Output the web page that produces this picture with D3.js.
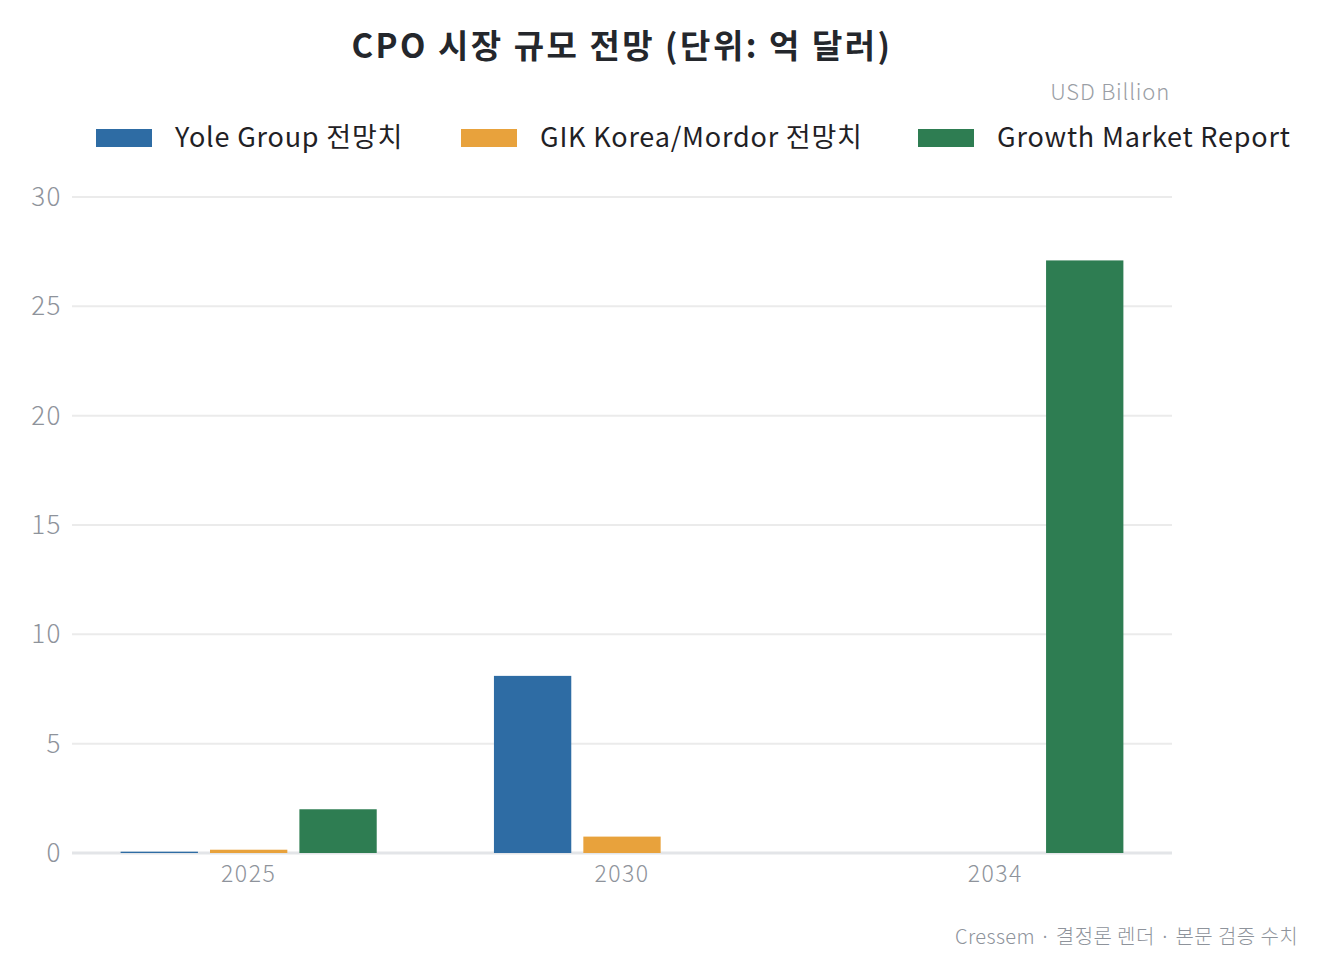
<!DOCTYPE html>
<html>
<head>
<meta charset="utf-8">
<script src="https://cdn.jsdelivr.net/npm/d3@7"></script>
<style>
  body { margin: 0; background: #fff; }
  text { font-family: "Noto Sans CJK KR", "Noto Sans", sans-serif; }
</style>
</head>
<body>
<svg id="chart" width="1328" height="975"></svg>
<script>
// data
var years = ["2025", "2030", "2034"];
var seriesNames = ["Yole Group 전망치", "GIK Korea/Mordor 전망치", "Growth Market Report"];
var seriesColors = ["#2e6ca4", "#e8a23c", "#2e7d52"];
var yoleValues = [0.06, 8.1, 0];
var gikValues = [0.15, 0.75, 0];
var gmrValues = [2.0, 0, 27.1];
var yTicks = [0, 5, 10, 15, 20, 25, 30];

var seriesValues = [yoleValues, gikValues, gmrValues];

var svg = d3.select("#chart");

var x0 = d3.scaleBand()
    .domain(years)
    .range([62, 1182])
    .paddingInner(0.314)
    .paddingOuter(0.157);

var x1 = d3.scaleBand()
    .domain(d3.range(seriesNames.length))
    .range([0, x0.bandwidth()])
    .paddingInner(0.135);

var y = d3.scaleLinear()
    .domain([0, 30])
    .range([853, 197]);

// grid lines
svg.append("g")
    .selectAll("line")
    .data(yTicks)
    .enter()
    .append("line")
    .attr("x1", 72)
    .attr("x2", 1172)
    .attr("y1", function (d) { return y(d); })
    .attr("y2", function (d) { return y(d); })
    .attr("stroke", function (d) { return d === 0 ? "#e3e5e8" : "#ebebeb"; })
    .attr("stroke-width", function (d) { return d === 0 ? 3 : 2; });

// y tick labels
svg.append("g")
    .selectAll("text")
    .data(yTicks)
    .enter()
    .append("text")
    .attr("x", 62)
    .attr("y", function (d) { return y(d); })
    .attr("dy", "0.35em")
    .attr("text-anchor", "end")
    .attr("font-size", "26px")
    .attr("font-weight", 300)
    .attr("letter-spacing", "1.5px")
    .attr("fill", "#8e939b")
    .text(function (d) { return d; });

// bars
var groups = svg.append("g")
    .selectAll("g")
    .data(years)
    .enter()
    .append("g")
    .attr("transform", function (d) { return "translate(" + x0(d) + ",0)"; });

groups.selectAll("rect")
    .data(function (d, i) {
        return seriesValues.map(function (vals, s) { return { s: s, v: vals[i] }; });
    })
    .enter()
    .append("rect")
    .filter(function (d) { return d.v > 0; })
    .attr("x", function (d) { return x1(d.s); })
    .attr("y", function (d) { return y(d.v); })
    .attr("width", x1.bandwidth())
    .attr("height", function (d) { return y(0) - y(d.v); })
    .attr("fill", function (d) { return seriesColors[d.s]; });

// x labels
svg.append("g")
    .selectAll("text")
    .data(years)
    .enter()
    .append("text")
    .attr("x", function (d) { return x0(d) + x0.bandwidth() / 2; })
    .attr("y", 882)
    .attr("text-anchor", "middle")
    .attr("font-size", "23px")
    .attr("font-weight", 300)
    .attr("letter-spacing", "1.5px")
    .attr("fill", "#8e939b")
    .text(function (d) { return d; });

// title
svg.append("text")
    .attr("x", 622)
    .attr("y", 58)
    .attr("text-anchor", "middle")
    .attr("font-size", "33px")
    .attr("font-weight", "bold")
    .attr("letter-spacing", "2.5px")
    .attr("fill", "#24272c")
    .text("CPO 시장 규모 전망 (단위: 억 달러)");

svg.append("text")
    .attr("x", 1170)
    .attr("y", 100)
    .attr("text-anchor", "end")
    .attr("font-size", "22px")
    .attr("font-weight", 300)
    .attr("letter-spacing", "0.8px")
    .attr("fill", "#9a9ea5")
    .text("USD Billion");

// legend
var legendX = [96, 461, 918];
var legend = svg.append("g")
    .selectAll("g")
    .data(seriesNames)
    .enter()
    .append("g")
    .attr("transform", function (d, i) { return "translate(" + legendX[i] + ",129)"; });

legend.append("rect")
    .attr("width", 56)
    .attr("height", 18)
    .attr("fill", function (d, i) { return seriesColors[i]; });

legend.append("text")
    .attr("x", 79)
    .attr("y", 9)
    .attr("dy", "0.35em")
    .attr("font-size", "27px")
    .attr("letter-spacing", "0.8px")
    .attr("fill", "#1f2125")
    .text(function (d) { return d; });

// footer
svg.append("text")
    .attr("x", 1298)
    .attr("y", 944)
    .attr("text-anchor", "end")
    .attr("font-size", "20px")
    .attr("font-weight", 300)
    .attr("letter-spacing", "0.4px")
    .attr("fill", "#8e939b")
    .text("Cressem · 결정론 렌더 · 본문 검증 수치");
</script>
</body>
</html>
